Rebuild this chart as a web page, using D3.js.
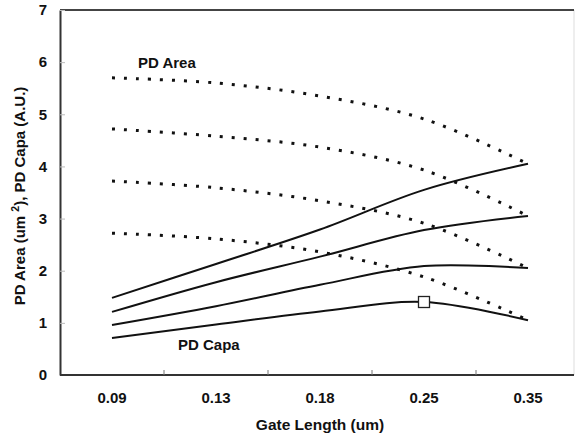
<!DOCTYPE html>
<html><head><meta charset="utf-8">
<script src="https://cdn.jsdelivr.net/npm/d3@7"></script>
<style>body{margin:0;background:#fff}svg{display:block;font-family:"Liberation Sans",Arial,sans-serif;font-weight:bold}</style>
</head><body><svg id="c" width="577" height="441"></svg>
<script>
const categories = ["0.09","0.13","0.18","0.25","0.35"];
const yTicks = [0,1,2,3,4,5,6,7];
const area1 = [5.70,5.60,5.35,4.91,4.05];
const area2 = [4.72,4.58,4.37,3.93,3.05];
const area3 = [3.72,3.59,3.34,2.91,2.05];
const area4 = [2.72,2.61,2.36,1.88,1.05];
const capa1 = [1.48,2.13,2.79,3.55,4.05];
const capa2 = [1.21,1.78,2.27,2.78,3.05];
const capa3 = [0.96,1.32,1.73,2.09,2.05];
const capa4 = [0.71,0.97,1.22,1.40,1.05];
const markerCat = "0.25", markerVal = 1.40;

const svg = d3.select("#c");
const L = 60, R = 580, T = 10, B = 375;
const x = d3.scaleBand().domain(categories).range([L, R]);
const y = d3.scaleLinear().domain([0,7]).range([B, T]);
const cx = c => x(c) + x.bandwidth()/2;

// frame
svg.append("line").attr("x1",574).attr("x2",574).attr("y1",T).attr("y2",B).attr("stroke","#ddd").attr("stroke-width",1);
svg.append("line").attr("x1",L).attr("x2",574).attr("y1",T).attr("y2",T).attr("stroke","#444").attr("stroke-width",2);

// y axis
const ya = svg.append("g").attr("transform",`translate(${L},0)`)
  .call(d3.axisLeft(y).tickValues(yTicks).tickFormat(d3.format("d")).tickSizeInner(-5).tickSizeOuter(0).tickPadding(13));
ya.select(".domain").attr("stroke","#333").attr("stroke-width",2);
ya.selectAll(".tick line").attr("stroke","#bbb");
ya.selectAll(".tick text").attr("font-size",15).attr("font-weight","bold").attr("fill","#111").attr("font-family","Liberation Sans, Arial, sans-serif");

// x axis
const xa = svg.append("g").attr("transform",`translate(0,${B})`)
  .call(d3.axisBottom(x).tickSize(0).tickPadding(17));
xa.select(".domain").remove();
svg.append("line").attr("x1",L).attr("x2",574).attr("y1",B).attr("y2",B).attr("stroke","#333").attr("stroke-width",2);
categories.slice(1).forEach(c=>{
  svg.append("line").attr("x1",x(c)).attr("x2",x(c)).attr("y1",B).attr("y2",B-5).attr("stroke","#777");
});
xa.selectAll(".tick text").attr("font-size",15).attr("font-weight","bold").attr("fill","#111").attr("font-family","Liberation Sans, Arial, sans-serif");

// lines
const line = d3.line().x((d,i)=>cx(categories[i])).y(d=>y(d)).curve(d3.curveCatmullRom.alpha(0.5));
[area1,area2,area3,area4].forEach(s=>{
  svg.append("path").attr("d",line(s)).attr("fill","none").attr("stroke","#111")
    .attr("stroke-width",3).attr("stroke-dasharray","3 9");
});
[capa1,capa2,capa3,capa4].forEach(s=>{
  svg.append("path").attr("d",line(s)).attr("fill","none").attr("stroke","#111").attr("stroke-width",2);
});
// marker
svg.append("rect").attr("x",cx(markerCat)-5.5).attr("y",y(markerVal)-5.5).attr("width",11).attr("height",11)
  .attr("fill","#fff").attr("stroke","#222").attr("stroke-width",1.3);

// labels
svg.append("text").attr("x",138).attr("y",68).attr("font-size",15).attr("fill","#111").text("PD Area");
svg.append("text").attr("x",178).attr("y",350).attr("font-size",15).attr("fill","#111").text("PD Capa");

svg.append("text").attr("x",320).attr("y",430).attr("text-anchor","middle").attr("font-size",15.5).attr("fill","#111").text("Gate Length (um)");

const yt = svg.append("text").attr("transform","translate(25,196) rotate(-90)").attr("text-anchor","middle")
  .attr("font-size",15).attr("fill","#111");
yt.append("tspan").text("PD Area (um ");
yt.append("tspan").attr("font-size",10.5).attr("dy",-6).text("2");
yt.append("tspan").attr("dy",6).text("), PD Capa (A.U.)");
</script></body></html>
